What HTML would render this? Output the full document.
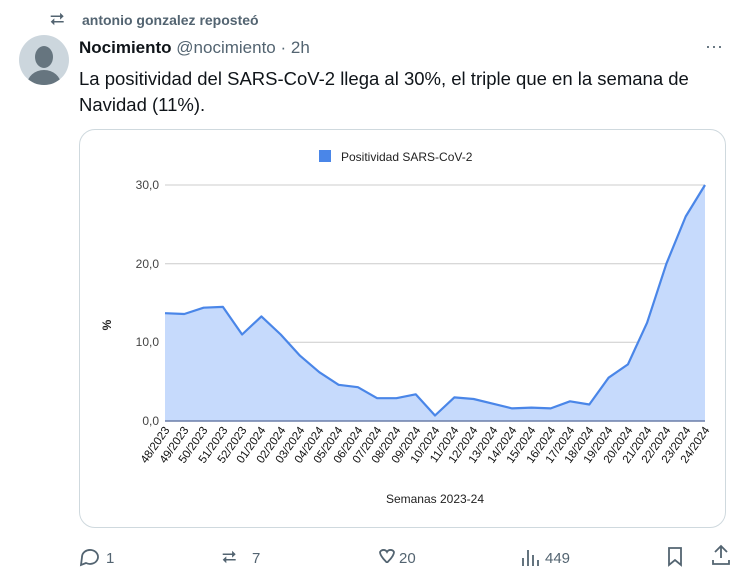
<!DOCTYPE html><html><head><meta charset="utf-8"><style>
body{margin:0;width:746px;height:584px;background:#fff;font-family:"Liberation Sans",sans-serif;position:relative;overflow:hidden;color:#0f1419}
.a{position:absolute}
</style></head><body>
<div class="a" style="left:50px;top:9px;font-size:18px;color:#536471">⮂</div>
<div class="a" style="left:82px;top:12px;font-size:14px;font-weight:bold;color:#536471">antonio gonzalez reposteó</div>
<div class="a" style="left:19px;top:35px;width:50px;height:50px;border-radius:50%;background:#ccd6dd;overflow:hidden">
<div class="a" style="left:16px;top:11px;width:18px;height:22px;border-radius:50%;background:#66757f"></div>
<div class="a" style="left:8px;top:35px;width:34px;height:30px;border-radius:50%;background:#66757f"></div></div>
<div class="a" style="left:79px;top:38px;font-size:17px"><b>Nocimiento</b> <span style="color:#536471">@nocimiento · 2h</span></div>
<div class="a" style="left:705px;top:36px;font-size:18px;color:#536471">···</div>
<div class="a" style="left:79px;top:66px;font-size:18.5px;line-height:26px">La positividad del SARS-CoV-2 llega al 30%, el triple que en la semana de<br>Navidad (11%).</div>
<div class="a" style="left:79px;top:129px;width:645px;height:397px;border:1px solid #cfd9de;border-radius:16px"></div>
<svg class="a" style="left:0;top:0" width="746" height="584" font-family="Liberation Sans,sans-serif">
<rect x="319" y="150" width="12" height="12" fill="#4a86e8"/>
<text x="341" y="161" font-size="12" fill="#222">Positividad SARS-CoV-2</text>
<g stroke="#ccc" stroke-width="1"><line x1="165" y1="185" x2="705" y2="185"/><line x1="165" y1="263.7" x2="705" y2="263.7"/><line x1="165" y1="342.3" x2="705" y2="342.3"/></g>
<g font-size="12" fill="#444" text-anchor="end"><text x="159" y="189">30,0</text><text x="159" y="268">20,0</text><text x="159" y="346">10,0</text><text x="159" y="425">0,0</text></g>
<text transform="translate(111,325) rotate(-90)" font-size="12" fill="#222" text-anchor="middle" font-weight="bold">%</text>
<polygon fill="#c6dafc" points="165,421 165,313.2 184.3,314 203.6,307.7 222.9,306.9 242.1,334.5 261.4,316.4 280.7,334.5 300,355.7 319.3,372.2 338.6,384.8 357.9,387.2 377.1,398.2 396.4,398.2 415.7,394.3 435,415.5 454.3,397.4 473.6,399 492.9,403.7 512.1,408.4 531.4,407.6 550.7,408.4 570,401.3 589.3,404.5 608.6,377.7 627.9,364.4 647.1,322.7 666.4,263.7 685.7,216.5 705,185 705,421"/>
<polyline fill="none" stroke="#4a86e8" stroke-width="2.2" stroke-linejoin="round" points="165,313.2 184.3,314 203.6,307.7 222.9,306.9 242.1,334.5 261.4,316.4 280.7,334.5 300,355.7 319.3,372.2 338.6,384.8 357.9,387.2 377.1,398.2 396.4,398.2 415.7,394.3 435,415.5 454.3,397.4 473.6,399 492.9,403.7 512.1,408.4 531.4,407.6 550.7,408.4 570,401.3 589.3,404.5 608.6,377.7 627.9,364.4 647.1,322.7 666.4,263.7 685.7,216.5 705,185"/>
<line x1="165" y1="421" x2="705" y2="421" stroke="#6b7ea8" stroke-width="1.5"/>
<g font-size="11.5" fill="#111" text-anchor="end">
<text transform="translate(170,430) rotate(-55)">48/2023</text>
<text transform="translate(189,430) rotate(-55)">49/2023</text>
<text transform="translate(208,430) rotate(-55)">50/2023</text>
<text transform="translate(228,430) rotate(-55)">51/2023</text>
<text transform="translate(247,430) rotate(-55)">52/2023</text>
<text transform="translate(266,430) rotate(-55)">01/2024</text>
<text transform="translate(286,430) rotate(-55)">02/2024</text>
<text transform="translate(305,430) rotate(-55)">03/2024</text>
<text transform="translate(324,430) rotate(-55)">04/2024</text>
<text transform="translate(343,430) rotate(-55)">05/2024</text>
<text transform="translate(363,430) rotate(-55)">06/2024</text>
<text transform="translate(382,430) rotate(-55)">07/2024</text>
<text transform="translate(401,430) rotate(-55)">08/2024</text>
<text transform="translate(421,430) rotate(-55)">09/2024</text>
<text transform="translate(440,430) rotate(-55)">10/2024</text>
<text transform="translate(459,430) rotate(-55)">11/2024</text>
<text transform="translate(478,430) rotate(-55)">12/2024</text>
<text transform="translate(498,430) rotate(-55)">13/2024</text>
<text transform="translate(517,430) rotate(-55)">14/2024</text>
<text transform="translate(536,430) rotate(-55)">15/2024</text>
<text transform="translate(556,430) rotate(-55)">16/2024</text>
<text transform="translate(575,430) rotate(-55)">17/2024</text>
<text transform="translate(594,430) rotate(-55)">18/2024</text>
<text transform="translate(613,430) rotate(-55)">19/2024</text>
<text transform="translate(633,430) rotate(-55)">20/2024</text>
<text transform="translate(652,430) rotate(-55)">21/2024</text>
<text transform="translate(671,430) rotate(-55)">22/2024</text>
<text transform="translate(691,430) rotate(-55)">23/2024</text>
<text transform="translate(710,430) rotate(-55)">24/2024</text>
</g>
<text x="435" y="503" font-size="12" fill="#222" text-anchor="middle">Semanas 2023-24</text>
<g fill="none" stroke="#536471" stroke-width="1.8">
<path d="M82,557 a8,7 0 1 1 4,6 l-5,2 z"/>
<path d="M380,552 a4,4 0 0 1 7,0 a4,4 0 0 1 7,0 c0,5 -7,10 -7,11 c0,-1 -7,-6 -7,-11z"/>
<path d="M669,548 h12 v17 l-6,-5 l-6,5z"/>
<path d="M715,552 l6,-6 l6,6 M721,546 v12 M713,560 v4 h16 v-4"/>
<path d="M523,566 v-8 M528,566 v-16 M533,566 v-11 M538,566 v-6"/>
</g>
<g font-size="15" fill="#536471"><text x="106" y="563">1</text><text x="222" y="563" font-size="18">⮂</text><text x="252" y="563">7</text><text x="399" y="563">20</text><text x="545" y="563">449</text></g>
</svg>
</body></html>
